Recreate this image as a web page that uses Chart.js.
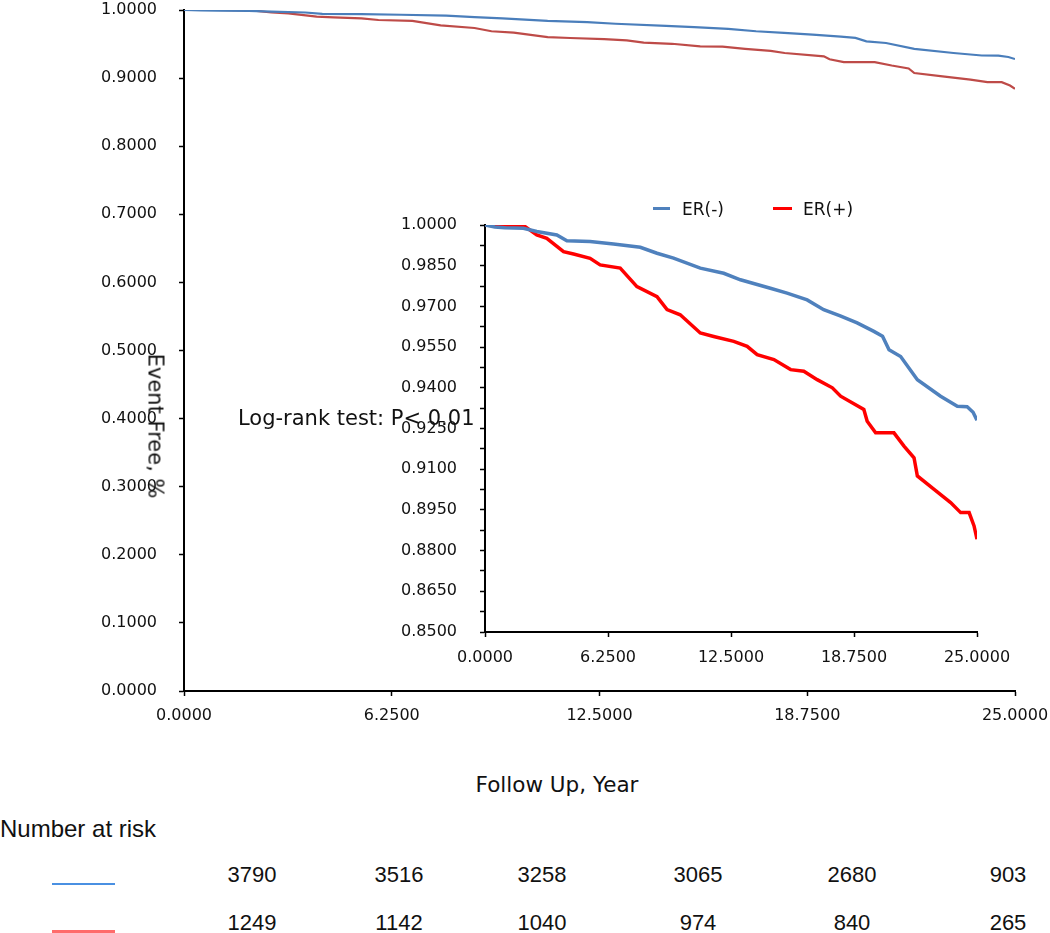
<!DOCTYPE html>
<html>
<head>
<meta charset="utf-8">
<title>Event Free by ER status</title>
<script src="https://cdn.jsdelivr.net/npm/chart.js@4.4.1/dist/chart.umd.min.js"></script>
<style>
  body { margin: 0; background: #fff; }
  #wrap { position: relative; width: 1050px; height: 933px; overflow: hidden;
          font-family: "DejaVu Sans", sans-serif; color: #111; }
  canvas { position: absolute; }
  #mainChart { left: 0; top: 0; }
  #insetChart { left: 390px; top: 190px; }
  .txt { position: absolute; white-space: nowrap; line-height: 1; }
  .mid { transform: translate(-50%, -50%); }
  .lft { transform: translate(0, -50%); }
  .risk { font-family: "Liberation Sans", sans-serif; font-size: 22px; }
  .key { position: absolute; }
</style>
</head>
<body>
<div id="wrap">
  <canvas id="mainChart" width="1050" height="760"></canvas>
  <canvas id="insetChart" width="660" height="480"></canvas>

  <div class="txt" style="left:155px; top:426px; font-size:21px; transform: translate(-50%, -50%) rotate(90deg);">Event Free, %</div>
  <div class="txt lft" style="left:238px; top:418px; font-size:21px;">Log-rank test: P&lt; 0.01</div>
  <div class="txt mid" style="left:557px; top:785px; font-size:21.5px;">Follow Up, Year</div>

  <!-- легенда вставки -->
  <div class="key" style="left:653px; top:207px; width:17px; height:3px; background:#4f81bd;"></div>
  <div class="txt lft" style="left:682px; top:209px; font-size:17px;">ER(-)</div>
  <div class="key" style="left:773px; top:207px; width:19px; height:3px; background:#ff0000;"></div>
  <div class="txt lft" style="left:803px; top:209px; font-size:17px;">ER(+)</div>

  <div class="txt lft risk" style="left:0px; top:829px; font-size:24px;">Number at risk</div>
  <div class="key" style="left:52px; top:883px; width:63px; height:2px; background:#4a90e2;"></div>
  <div class="key" style="left:52px; top:930px; width:63px; height:3px; background:#ff6b6b;"></div>
  <div id="riskRows"></div>
</div>

<script>
// --- Дані ---
const xTicks = [0, 6.25, 12.5, 18.75, 25];
const mainYTicks = [0, 0.1, 0.2, 0.3, 0.4, 0.5, 0.6, 0.7, 0.8, 0.9, 1.0];

const erNegYears = [0, 0.5, 1.0, 1.95, 2.63, 3.65, 4.16, 5.34, 6.53, 7.89, 8.74, 9.58, 10.94, 12.13,
  12.98, 14.5, 15.35, 16.37, 17.21, 18.05, 18.91, 19.76, 20.2, 20.53, 21.12, 21.97, 23.15, 24.0, 24.5, 24.8, 25.0];
const erNegSurv = [1.0, 0.9993, 0.999, 0.9988, 0.9976, 0.9963, 0.9942, 0.9939, 0.993, 0.9918, 0.9896, 0.9878, 0.9841, 0.9822,
  0.9798, 0.9767, 0.9749, 0.9724, 0.9688, 0.9665, 0.9639, 0.9608, 0.959, 0.954, 0.9515, 0.943, 0.9369, 0.9332, 0.933, 0.931, 0.928];

const erPosYears = [0, 1.0, 2.04, 2.63, 3.14, 3.99, 4.5, 5.34, 5.85, 6.87, 7.72, 8.74, 9.25, 9.92, 10.94, 11.62,
  12.64, 13.32, 13.83, 14.68, 15.53, 16.2, 16.88, 17.65, 18.07, 19.25, 19.42, 19.85, 20.78, 21.29, 21.8, 21.97,
  22.82, 23.66, 24.17, 24.6, 24.85, 25.0, 25.02];
const erPosSurv = [1.0, 1.0, 0.9994, 0.9963, 0.9951, 0.9902, 0.9893, 0.9877, 0.9853, 0.9841, 0.9773, 0.9736, 0.9688, 0.9669, 0.9602, 0.9589,
  0.9571, 0.9553, 0.9522, 0.9504, 0.9467, 0.9461, 0.943, 0.94, 0.9369, 0.932, 0.9277, 0.9234, 0.9234, 0.9185, 0.9142, 0.9075,
  0.9026, 0.8977, 0.894, 0.894, 0.8891, 0.8842, 0.8776];

const riskNeg = [3790, 3516, 3258, 3065, 2680, 903];
const riskPos = [1249, 1142, 1040, 974, 840, 265];

// --- Розмітка таблиці ---
const riskColX = [252, 399, 542, 698, 852, 1008];
const riskRowY = [875, 923];

const rows = document.getElementById("riskRows");
[riskNeg, riskPos].forEach((row, r) => {
  row.forEach((n, i) => {
    const d = document.createElement("div");
    d.className = "txt mid risk";
    d.style.left = riskColX[i] + "px";
    d.style.top = riskRowY[r] + "px";
    d.textContent = n;
    rows.appendChild(d);
  });
});

function toPoints(xs, ys) {
  return xs.map((x, i) => ({ x: x, y: ys[i] }));
}

const tickFont = { family: "DejaVu Sans", size: 16 };
const axisGrid = { drawOnChartArea: false, drawTicks: true, tickLength: 5, tickColor: "#000", tickWidth: 1.5 };
const axisBorder = { display: true, color: "#000", width: 2 };

// фіксований розмір осі без автоматичних відступів під підписи
function fixX(h) {
  return (s) => { s.height = h; s.paddingLeft = 0; s.paddingRight = 0; };
}
function fixY(w) {
  return (s) => { s.width = w; s.paddingTop = 0; s.paddingBottom = 0; };
}

// --- Основний графік ---
new Chart(document.getElementById("mainChart"), {
  type: "line",
  data: {
    datasets: [
      { label: "ER(-)", data: toPoints(erNegYears, erNegSurv), borderColor: "#4a7ebb", borderWidth: 2.2, pointRadius: 0, tension: 0 },
      { label: "ER(+)", data: toPoints(erPosYears, erPosSurv), borderColor: "#be4b48", borderWidth: 2.2, pointRadius: 0, tension: 0 },
    ],
  },
  options: {
    responsive: false,
    animation: false,
    layout: { padding: { left: 0, right: 35, top: 10, bottom: 0 } },
    plugins: { legend: { display: false }, tooltip: { enabled: false } },
    scales: {
      x: {
        type: "linear", min: 0, max: 25,
        afterBuildTicks: (s) => { s.ticks = xTicks.map((v) => ({ value: v })); },
        afterFit: fixX(69),
        ticks: { font: tickFont, color: "#111", padding: 10, maxRotation: 0, callback: (v) => Number(v).toFixed(4) },
        grid: axisGrid, border: axisBorder,
      },
      y: {
        type: "linear", min: 0, max: 1,
        afterBuildTicks: (s) => { s.ticks = mainYTicks.map((v) => ({ value: v })); },
        afterFit: fixY(184),
        ticks: { font: tickFont, color: "#111", padding: 22, callback: (v) => Number(v).toFixed(4) },
        grid: axisGrid, border: axisBorder,
      },
    },
  },
});

// --- Вставка (збільшений масштаб) ---
new Chart(document.getElementById("insetChart"), {
  type: "line",
  data: {
    datasets: [
      { label: "ER(-)", data: toPoints(erNegYears, erNegSurv), borderColor: "#4f81bd", borderWidth: 3.5, pointRadius: 0, tension: 0 },
      { label: "ER(+)", data: toPoints(erPosYears, erPosSurv), borderColor: "#ff0000", borderWidth: 3.5, pointRadius: 0, tension: 0 },
    ],
  },
  options: {
    responsive: false,
    animation: false,
    layout: { padding: { left: 0, right: 73, top: 35, bottom: 0 } },
    plugins: { legend: { display: false }, tooltip: { enabled: false } },
    scales: {
      x: {
        type: "linear", min: 0, max: 25,
        afterBuildTicks: (s) => { s.ticks = xTicks.map((v) => ({ value: v })); },
        afterFit: fixX(38),
        ticks: { font: tickFont, color: "#111", padding: 11, maxRotation: 0, callback: (v) => Number(v).toFixed(4) },
        grid: axisGrid, border: axisBorder,
      },
      y: {
        type: "linear", min: 0.85, max: 1.0,
        // основні поділки через 0.015, проміжні через 0.0075
        afterBuildTicks: (s) => {
          const t = [];
          for (let i = 0; i <= 20; i++) t.push({ value: 0.85 + i * 0.0075 });
          s.ticks = t;
        },
        afterFit: fixY(95),
        ticks: { font: tickFont, color: "#111", padding: 23, autoSkip: false,
                 callback: (v, i) => (i % 2 === 0 ? Number(v).toFixed(4) : "") },
        grid: axisGrid, border: axisBorder,
      },
    },
  },
});
</script>
</body>
</html>
